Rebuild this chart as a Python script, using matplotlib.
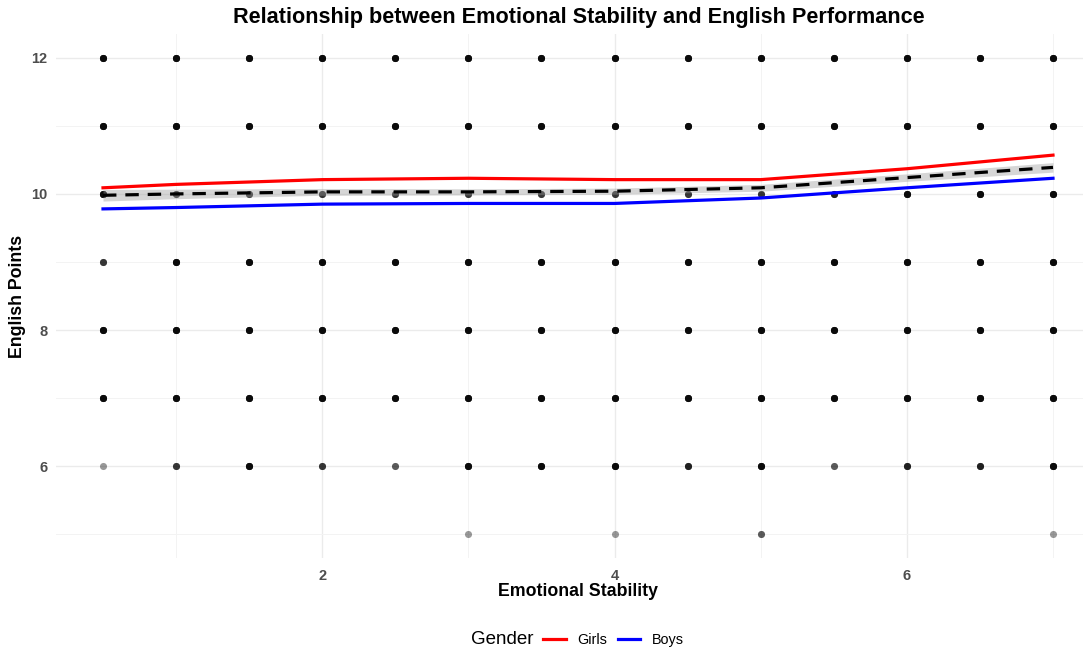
import numpy as np
import matplotlib.pyplot as plt
from matplotlib.lines import Line2D

plt.rcParams['font.family'] = ['Liberation Sans', 'DejaVu Sans']

# score grid: emotional stability (x) vs english points (y)
stability = [0.5, 1, 1.5, 2, 2.5, 3, 3.5, 4, 4.5, 5, 5.5, 6, 6.5, 7]
points = [5, 6, 7, 8, 9, 10, 11, 12]

# how many students sit on each grid cell (rows follow `points`)
counts = {
    5: [0, 0, 0, 0, 0, 1, 0, 1, 0, 2, 0, 0, 0, 1],
    6: [1, 3, 6, 3, 2, 6, 6, 6, 4, 6, 2, 4, 4, 6],
    7: [6] * 14,
    8: [6] * 14,
    9: [3] + [6] * 13,
    10: [6, 3, 3, 3, 3, 3, 3, 3, 3, 3, 4, 6, 6, 6],
    11: [6] * 14,
    12: [6] * 14,
}

# loess fits
fit_x = [0.5, 1, 2, 3, 4, 5, 6, 7]
girls = [10.09, 10.14, 10.21, 10.23, 10.21, 10.21, 10.37, 10.57]
boys = [9.78, 9.80, 9.85, 9.86, 9.86, 9.94, 10.09, 10.23]
overall = [9.98, 10.00, 10.03, 10.03, 10.04, 10.09, 10.24, 10.39]
overall_se = [0.085, 0.07, 0.05, 0.045, 0.045, 0.05, 0.055, 0.07]

fig = plt.figure(figsize=(10.83, 6.53), dpi=100)
ax = fig.add_axes([55.5 / 1083, 95 / 653, 1045 / 1083, 524 / 653])

for y in points:
    for x, n in zip(stability, counts[y]):
        for _ in range(n):
            ax.scatter(x, y, s=26, color='black', alpha=0.4, linewidths=0, zorder=2)

lo = np.array(overall) - np.array(overall_se)
hi = np.array(overall) + np.array(overall_se)
ax.fill_between(fit_x, lo, hi, color='#999999', alpha=0.4, linewidth=0, zorder=3)
ax.plot(fit_x, girls, color='#ff0000', lw=2.3, zorder=4)
ax.plot(fit_x, boys, color='#0000ff', lw=2.3, zorder=4)
ax.plot(fit_x, overall, color='black', lw=2.3, dashes=(4.2, 2.8), zorder=5)

ax.set_xlim(0.5 - 0.325, 7 + 0.325)
ax.set_ylim(5 - 0.35, 12 + 0.35)
ax.set_xticks([2, 4, 6])
ax.set_xticks([1, 3, 5, 7], minor=True)
ax.set_yticks([6, 8, 10, 12])
ax.set_yticks([5, 7, 9, 11], minor=True)
ax.grid(which='major', color='#ebebeb', lw=1.0)
ax.grid(which='minor', color='#f3f3f3', lw=0.7)
ax.set_axisbelow(True)
for s in ax.spines.values():
    s.set_visible(False)
ax.tick_params(which='both', length=0)
ax.tick_params(axis='x', pad=8)
ax.tick_params(axis='y', pad=6)
for lab in ax.get_xticklabels() + ax.get_yticklabels():
    lab.set_fontweight('bold')
    lab.set_color('#4d4d4d')
    lab.set_fontsize(10.5)

fig.text(579 / 1083, 1 - 17 / 653, 'Relationship between Emotional Stability and English Performance',
         ha='center', va='center', fontsize=15.6, fontweight='bold')
fig.text(578 / 1083, 1 - 592 / 653, 'Emotional Stability', ha='center', va='center',
         fontsize=12.8, fontweight='bold')
fig.text(18 / 1083, 1 - 296 / 653, 'English Points', ha='center', va='center',
         rotation=90, fontsize=12.8, fontweight='bold')

fig.text(502.5 / 1083, 1 - 640 / 653, 'Gender', ha='center', va='center', fontsize=13.5)
handles = [Line2D([], [], color='#ff0000', lw=2.3), Line2D([], [], color='#0000ff', lw=2.3)]
fig.legend(handles, ['Girls', 'Boys'], ncol=2, loc='center', bbox_to_anchor=(613.5 / 1083, 1 - 640 / 653),
           frameon=False, fontsize=10.4, handlelength=1.55, handletextpad=0.8, columnspacing=0.75)

fig.savefig('out.png', dpi=100)
